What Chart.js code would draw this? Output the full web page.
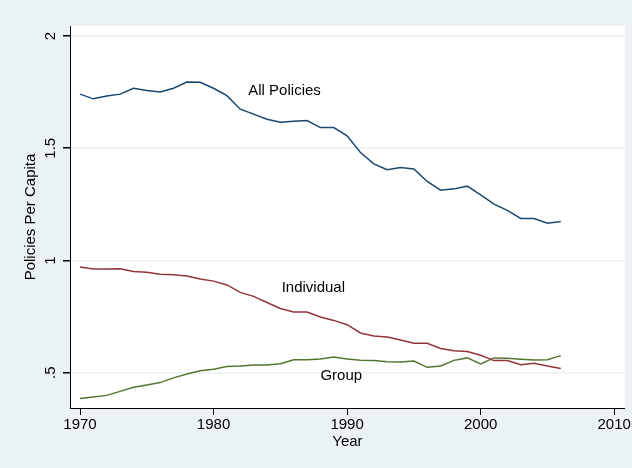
<!DOCTYPE html>
<html>
<head>
<meta charset="utf-8">
<title>Policies Per Capita</title>
<script src="https://cdn.jsdelivr.net/npm/chart.js@4.4.1/dist/chart.umd.min.js"></script>
<style>
  body { margin: 0; background: #eaf2f3; }
  #wrap { width: 632px; height: 468px; }
</style>
</head>
<body>
<div id="wrap"><canvas id="policyChart" width="632" height="468"></canvas></div>
<script>
const years = [1970,1971,1972,1973,1974,1975,1976,1977,1978,1979,1980,1981,1982,1983,1984,1985,1986,1987,1988,
               1989,1990,1991,1992,1993,1994,1995,1996,1997,1998,1999,2000,2001,2002,2003,2004,2005,2006];
const allPolicies = [1.741,1.720,1.733,1.741,1.767,1.757,1.751,1.767,1.795,1.794,1.767,1.734,1.674,1.652,1.629,1.616,1.620,1.623,1.592,
                     1.592,1.555,1.481,1.430,1.404,1.414,1.408,1.352,1.313,1.319,1.331,1.292,1.251,1.223,1.187,1.187,1.166,1.174];
const individual = [0.971,0.962,0.962,0.963,0.951,0.947,0.939,0.936,0.931,0.917,0.908,0.891,0.858,0.840,0.813,0.786,0.771,0.770,0.748,
                    0.733,0.714,0.677,0.664,0.659,0.646,0.631,0.631,0.608,0.598,0.594,0.578,0.554,0.554,0.536,0.542,0.530,0.519];
const group = [0.385,0.392,0.399,0.417,0.435,0.445,0.456,0.477,0.494,0.509,0.515,0.528,0.530,0.534,0.534,0.540,0.558,0.558,0.561,
               0.570,0.561,0.555,0.554,0.549,0.548,0.552,0.524,0.530,0.555,0.566,0.539,0.566,0.564,0.560,0.557,0.558,0.576];

const xTicks = [1970, 1980, 1990, 2000, 2010];
const yTicks = [0.5, 1, 1.5, 2];
const yTickLabels = [".5", "1", "1.5", "2"];

// text labels next to each line, in data units
const seriesLabels = [
  { text: "All Policies", x: 1982.6, y: 1.755 },
  { text: "Individual", x: 1985.1, y: 0.877 },
  { text: "Group", x: 1988.0, y: 0.485 }
];

const FONT = "'Liberation Sans', Arial, sans-serif";

function points(vals) {
  return years.map(function(yr, i) { return { x: yr, y: vals[i] }; });
}

// white plot region on the grey-blue graph region
const plotBackground = {
  id: 'plotBackground',
  beforeDraw: function(chart) {
    const ctx = chart.ctx;
    const a = chart.chartArea;
    ctx.save();
    ctx.fillStyle = '#eaf2f3';
    ctx.fillRect(0, 0, chart.width, chart.height);
    ctx.fillStyle = '#ffffff';
    ctx.fillRect(a.left, a.top, a.right - a.left, a.bottom - a.top);
    ctx.restore();
  }
};

const lineLabels = {
  id: 'lineLabels',
  afterDatasetsDraw: function(chart) {
    const ctx = chart.ctx;
    const xs = chart.scales.x, ys = chart.scales.y;
    ctx.save();
    ctx.font = "15px " + FONT;
    ctx.fillStyle = '#000000';
    ctx.textAlign = 'left';
    ctx.textBaseline = 'middle';
    seriesLabels.forEach(function(l) {
      ctx.fillText(l.text, xs.getPixelForValue(l.x), ys.getPixelForValue(l.y));
    });
    ctx.restore();
  }
};

new Chart("policyChart", {
  type: "line",
  data: {
    datasets: [
      { label: "All Policies", data: points(allPolicies), borderColor: "#1a476f", borderWidth: 1.5, pointRadius: 0, fill: false, tension: 0 },
      { label: "Individual", data: points(individual), borderColor: "#90353b", borderWidth: 1.5, pointRadius: 0, fill: false, tension: 0 },
      { label: "Group", data: points(group), borderColor: "#55752f", borderWidth: 1.5, pointRadius: 0, fill: false, tension: 0 }
    ]
  },
  plugins: [plotBackground, lineLabels],
  options: {
    responsive: false,
    animation: false,
    devicePixelRatio: 1,
    layout: { padding: { left: 22, right: 7, top: 26, bottom: 17 } },
    plugins: {
      legend: { display: false },
      tooltip: { enabled: false }
    },
    scales: {
      x: {
        type: 'linear',
        min: 1969.25,
        max: 2010.8,
        afterBuildTicks: function(scale) {
          scale.ticks = xTicks.map(function(v) { return { value: v }; });
        },
        afterFit: function(scale) { scale.height = 43; },
        border: { color: '#000000', width: 1 },
        grid: { drawOnChartArea: false, tickLength: 7, tickColor: '#000000' },
        ticks: {
          color: '#000000',
          font: { family: FONT, size: 15 },
          padding: 1,
          maxRotation: 0,
          callback: function(v) { return String(v); }
        },
        title: { display: true, text: "Year", color: '#000000', font: { family: FONT, size: 15 }, padding: 0 }
      },
      y: {
        type: 'linear',
        min: 0.3428,
        max: 2.0445,
        afterBuildTicks: function(scale) {
          scale.ticks = yTicks.map(function(v) { return { value: v }; });
        },
        afterFit: function(scale) { scale.width = 48; },
        border: { color: '#000000', width: 1 },
        grid: { color: '#eaf2f3', lineWidth: 1.5, tickLength: 7, tickColor: '#000000' },
        ticks: {
          color: '#000000',
          font: { family: FONT, size: 15 },
          padding: 2,
          minRotation: 90,
          maxRotation: 90,
          crossAlign: 'center',
          callback: function(v) { return yTickLabels[yTicks.indexOf(v)]; }
        },
        title: { display: true, text: "Policies Per Capita", color: '#000000', font: { family: FONT, size: 15 }, padding: 0 }
      }
    }
  }
});
</script>
</body>
</html>
